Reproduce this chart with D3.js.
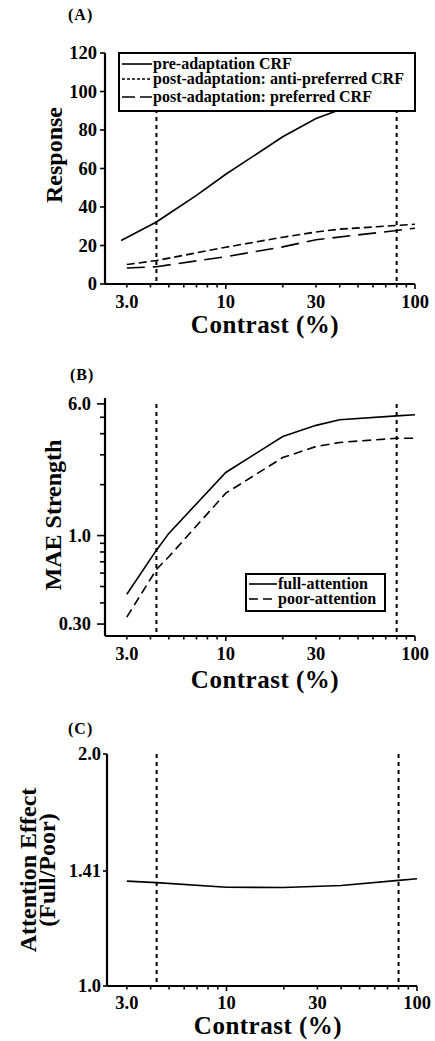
<!DOCTYPE html>
<html>
<head>
<meta charset="utf-8">
<script src="https://cdn.jsdelivr.net/npm/d3@7"></script>
<style>
  body { margin: 0; background: #fff; }
  svg text { font-family: "Liberation Serif", "Times New Roman", serif; font-weight: bold; fill: #000; }
</style>
</head>
<body>
<svg width="435" height="1041"></svg>
<script>
// vertical reference contrasts (dotted lines)
var markers = [4.3, 80];

// panel A: contrast response functions
var preContrast = [2.8, 4.3, 5, 7, 10, 20, 30, 40, 60, 100];
var preCRF      = [22.6, 32.2, 36.5, 46, 57, 76.5, 86, 90.5, 95, 99];
var antiContrast = [3, 4.3, 10, 20, 30, 40, 80, 100];
var antiCRF      = [10.1, 12.2, 19.1, 24.3, 27, 28.5, 30.4, 31];
var prefContrast = [3, 4.3, 10, 20, 30, 80, 100];
var prefCRF      = [8.3, 9, 14.2, 19.3, 23, 27.8, 29];

// panel B: MAE strength
var maeContrast = [3, 4.3, 5, 10, 20, 30, 40, 80, 100];
var fullMAE = [0.45, 0.82, 1.03, 2.36, 3.85, 4.48, 4.83, 5.1, 5.18];
var poorMAE = [0.33, 0.63, 0.75, 1.78, 2.89, 3.36, 3.55, 3.76, 3.76];

// panel C: attention effect
var ratioContrast = [3, 4.3, 10, 20, 40, 80, 100];
var ratio = [1.368, 1.362, 1.343, 1.342, 1.350, 1.371, 1.378];

var xTicksMinor = [3, 4, 5, 6, 7, 8, 9, 10, 20, 30, 40, 50, 60, 70, 80, 90, 100];
var xTickLabels = [3, 10, 30, 100];
var yTicksA = [0, 20, 40, 60, 80, 100, 120];
var yTicksB = [0.3, 1, 6];
var yMinorB = [0.4, 0.5, 0.6, 0.7, 0.8, 0.9, 2, 3, 4, 5];
var yTicksC = [1, 1.41, 2];

var svg = d3.select("svg");

function zip(xs, ys) { return xs.map(function (d, i) { return [d, ys[i]]; }); }

function xAxis(g, x, y0, off) {
  g.append("line").attr("x1", x.range()[0]).attr("x2", x.range()[1])
    .attr("y1", y0).attr("y2", y0).attr("stroke", "#000").attr("stroke-width", 2.2);
  xTicksMinor.forEach(function (v) {
    var big = (v == 10 || v == 100);
    g.append("line").attr("x1", x(v)).attr("x2", x(v))
      .attr("y1", y0).attr("y2", y0 + (big ? 5 : 3.5))
      .attr("stroke", "#000").attr("stroke-width", 1.6);
  });
  xTickLabels.forEach(function (v) {
    g.append("text").attr("x", x(v)).attr("y", y0 + off)
      .attr("text-anchor", "middle").style("font-size", "18.5px")
      .text(v == 3 ? "3.0" : v);
  });
}

function yAxis(g, y, x0, ticks, fmt, tlen, pad) {
  g.append("line").attr("x1", x0).attr("x2", x0)
    .attr("y1", y.range()[0]).attr("y2", y.range()[1])
    .attr("stroke", "#000").attr("stroke-width", 2.2);
  ticks.forEach(function (v) {
    g.append("line").attr("x1", x0 - tlen).attr("x2", x0)
      .attr("y1", y(v)).attr("y2", y(v)).attr("stroke", "#000").attr("stroke-width", 1.6);
    g.append("text").attr("x", x0 - tlen - pad).attr("y", y(v)).attr("dy", "0.34em")
      .attr("text-anchor", "end").style("font-size", "18.5px").text(fmt(v));
  });
}

function markerLines(g, x, y1, y2) {
  markers.forEach(function (m) {
    g.append("line").attr("x1", x(m)).attr("x2", x(m)).attr("y1", y1).attr("y2", y2)
      .attr("stroke", "#000").attr("stroke-width", 2).attr("stroke-dasharray", "4,4");
  });
}

function curve(g, x, y, pts, dash) {
  g.append("path").datum(pts)
    .attr("d", d3.line().x(function (d) { return x(d[0]); }).y(function (d) { return y(d[1]); }))
    .attr("fill", "none").attr("stroke", "#000").attr("stroke-width", 1.6)
    .attr("stroke-dasharray", dash || null);
}

function yTitle(g, lines, cy) {
  lines.forEach(function (l) {
    g.append("text").attr("transform", "translate(" + l.x + "," + cy + ") rotate(-90)")
      .attr("text-anchor", "middle").style("font-size", "24px").text(l.t);
  });
}

function xTitle(g, cx, y) {
  g.append("text").attr("x", cx).attr("y", y).attr("text-anchor", "middle")
    .style("font-size", "25px").style("letter-spacing", "0.5px").text("Contrast (%)");
}

function legend(g, x0, y0, w, h, items) {
  g.append("rect").attr("x", x0).attr("y", y0).attr("width", w).attr("height", h)
    .attr("fill", "#fff").attr("stroke", "#000").attr("stroke-width", 2);
  items.forEach(function (it) {
    g.append("line").attr("x1", x0 + 3).attr("x2", x0 + it.len).attr("y1", it.y - 5).attr("y2", it.y - 5)
      .attr("stroke", "#000").attr("stroke-width", 1.6).attr("stroke-dasharray", it.dash || null);
    g.append("text").attr("x", x0 + it.len + 1).attr("y", it.y).style("font-size", "16px").text(it.t);
  });
}

// ---------- (A) ----------
var gA = svg.append("g");
var xA = d3.scaleLog().domain([2.3, 100]).range([105, 415]);
var yA = d3.scaleLinear().domain([0, 120]).range([284, 53]);
gA.append("text").attr("x", 68).attr("y", 20).style("font-size", "16px").style("letter-spacing", "1px").text("(A)");
markerLines(gA, xA, 53, 284);
curve(gA, xA, yA, zip(preContrast, preCRF));
curve(gA, xA, yA, zip(antiContrast, antiCRF), "8,4");
curve(gA, xA, yA, zip(prefContrast, prefCRF), "18,8");
xAxis(gA, xA, 284, 24);
yAxis(gA, yA, 105, yTicksA, function (v) { return v; }, 5, 3);
yTitle(gA, [{x: 62, t: "Response"}], 155);
xTitle(gA, 265, 333);
legend(gA, 119, 53, 296, 58, [
  {t: "pre-adaptation CRF", y: 69, len: 33},
  {t: "post-adaptation: anti-preferred CRF", y: 84, len: 33, dash: "3,2"},
  {t: "post-adaptation: preferred CRF", y: 102, len: 33, dash: "13,5"}
]);

// ---------- (B) ----------
var gB = svg.append("g");
var xB = d3.scaleLog().domain([2.3, 100]).range([105, 415]);
var yB = d3.scaleLog().domain([0.255, 6.5]).range([636, 398]);
gB.append("text").attr("x", 70).attr("y", 380).style("font-size", "16px").style("letter-spacing", "1px").text("(B)");
markerLines(gB, xB, 404, 636);
curve(gB, xB, yB, zip(maeContrast, fullMAE));
curve(gB, xB, yB, zip(maeContrast, poorMAE), "9,5");
xAxis(gB, xB, 636, 24);
yAxis(gB, yB, 105, yTicksB, function (v) { return v < 1 ? v.toFixed(2) : v.toFixed(1); }, 8, 6);
yMinorB.forEach(function (v) {
  gB.append("line").attr("x1", 100).attr("x2", 105).attr("y1", yB(v)).attr("y2", yB(v))
    .attr("stroke", "#000").attr("stroke-width", 1.6);
});
yTitle(gB, [{x: 61, t: "MAE Strength"}], 515);
xTitle(gB, 265, 688);
legend(gB, 246, 574, 139, 37, [
  {t: "full-attention", y: 589, len: 31},
  {t: "poor-attention", y: 604, len: 31, dash: "9,5"}
]);

// ---------- (C) ----------
var gC = svg.append("g");
var xC = d3.scaleLog().domain([2.36, 100]).range([107, 417]);
var yC = d3.scaleLog().domain([1, 2]).range([986, 754]);
gC.append("text").attr("x", 68).attr("y", 734).style("font-size", "16px").style("letter-spacing", "1px").text("(C)");
markerLines(gC, xC, 754, 986);
curve(gC, xC, yC, zip(ratioContrast, ratio));
xAxis(gC, xC, 986, 23);
yAxis(gC, yC, 107, yTicksC, function (v) { return v == 1.41 ? "1.41" : v.toFixed(1); }, 4, 2);
yTitle(gC, [{x: 36, t: "Attention Effect"}, {x: 55, t: "(Full/Poor)"}], 870);
xTitle(gC, 268, 1034);
</script>
</body>
</html>
